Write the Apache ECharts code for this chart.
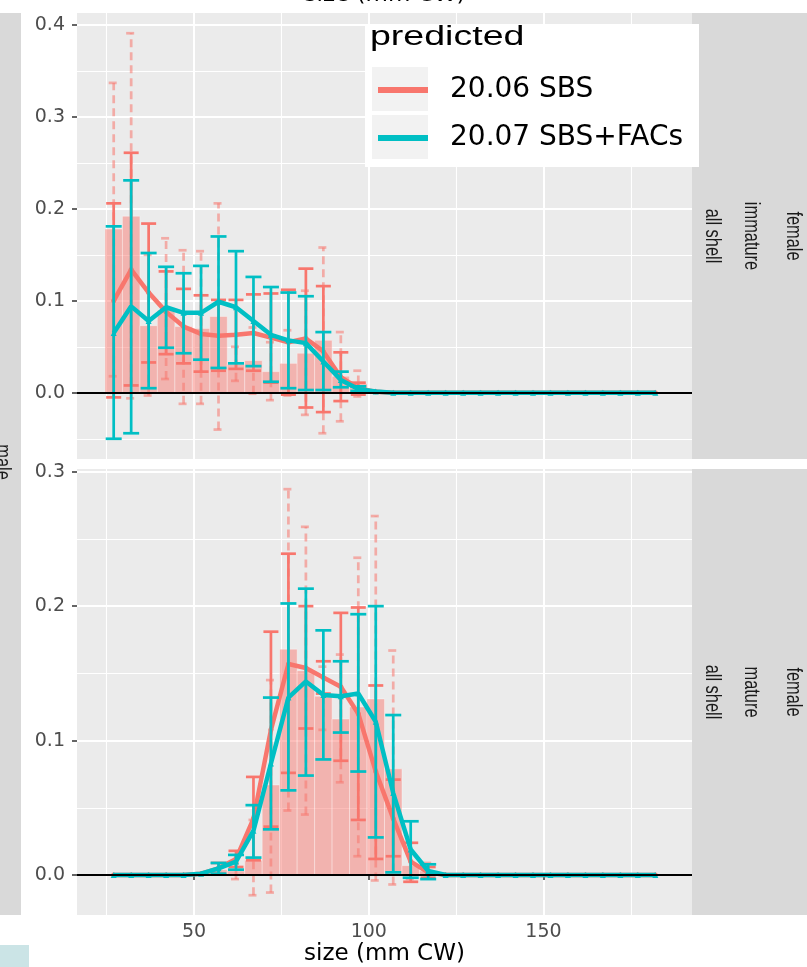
<!DOCTYPE html>
<html>
<head>
<meta charset="utf-8">
<script src="https://cdn.jsdelivr.net/npm/echarts@6/dist/echarts.min.js"></script>
<style>
    html, body { margin: 0; padding: 0; background: #fff; }
    #chart { width: 807px; height: 967px; }
</style>
</head>
<body>
<div id="chart"></div>
<script>
// size bins (mm CW)
var sizes = [27, 32, 37, 42, 47, 52, 57, 62, 67, 72, 77, 82, 87, 92, 97, 102,
             107, 112, 117, 122, 127, 132, 137, 142, 147, 152, 157, 162, 167, 172, 177, 182];
var xMajor = [50, 100, 150];
var xMinor = [25, 75, 125, 175];
var yMajorTop = [0, 0.1, 0.2, 0.3, 0.4];
var yMinorTop = [-0.05, 0.05, 0.15, 0.25, 0.35];
var yMajorBot = [0, 0.1, 0.2, 0.3];
var yMinorBot = [0.05, 0.15, 0.25];

// ---- female immature (top panel) ----
var obsTop   = [0.178, 0.192, 0.073, 0.090, 0.072, 0.070, 0.083, 0.031, 0.035, 0.023, 0.032, 0.043, 0.057, 0.018, 0.010, 0.002];
var obsLoTop = [0.018, -0.006, -0.003, 0.015, -0.012, -0.012, -0.040, 0.013, -0.001, -0.008, -0.003, -0.024, -0.044, -0.031, -0.004];
var obsHiTop = [0.337, 0.391, 0.150, 0.168, 0.155, 0.154, 0.206, 0.050, 0.071, 0.055, 0.068, 0.111, 0.158, 0.066, 0.024];
var sbsTop   = [0.100, 0.134, 0.109, 0.088, 0.072, 0.064, 0.062, 0.063, 0.065, 0.060, 0.055, 0.059, 0.045, 0.017, 0.005, 0.001,
                0, 0, 0, 0, 0, 0, 0, 0, 0, 0, 0, 0, 0, 0, 0, 0];
var sbsLoTop = [-0.005, 0.008, 0.033, 0.042, 0.032, 0.023, 0.024, 0.026, 0.024, 0.011, -0.002, -0.016, -0.021, -0.009, -0.002];
var sbsHiTop = [0.206, 0.261, 0.184, 0.132, 0.113, 0.106, 0.101, 0.101, 0.107, 0.108, 0.112, 0.135, 0.116, 0.044, 0.011];
var facTop   = [0.065, 0.094, 0.078, 0.093, 0.087, 0.087, 0.099, 0.093, 0.078, 0.063, 0.057, 0.054, 0.034, 0.014, 0.004, 0.0015,
                0, 0, 0, 0, 0, 0, 0, 0, 0, 0, 0, 0, 0, 0, 0, 0];
var facLoTop = [-0.050, -0.044, 0.005, 0.049, 0.043, 0.036, 0.027, 0.032, 0.029, 0.012, 0.005, 0.003, 0.003, 0.006, 0.002];
var facHiTop = [0.181, 0.231, 0.152, 0.137, 0.130, 0.138, 0.170, 0.154, 0.126, 0.115, 0.109, 0.105, 0.066, 0.023, 0.007];

// ---- female mature (bottom panel) ----
var obsBot   = [0, 0, 0, 0, 0, 0.002, 0.004, 0.003, 0.011, 0.067, 0.168, 0.152, 0.133, 0.116, 0.125, 0.131, 0.079, 0.007, 0.003];
var obsLoBot = [null, null, null, null, null, null, null, -0.003, -0.015, -0.013, 0.048, 0.045, 0.108, 0.069, 0.014, -0.004, -0.007, -0.003, -0.002];
var obsHiBot = [null, null, null, null, null, null, null, 0.009, 0.041, 0.145, 0.287, 0.259, 0.155, 0.164, 0.236, 0.267, 0.167, 0.017, 0.009];
var sbsBot   = [0, 0, 0, 0, 0, 0.001, 0.005, 0.012, 0.042, 0.108, 0.157, 0.154, 0.147, 0.140, 0.120, 0.077, 0.042, 0.010, 0.002,
                0, 0, 0, 0, 0, 0, 0, 0, 0, 0, 0, 0, 0];
var sbsLoBot = [null, null, null, null, null, null, 0.001, 0.006, 0.011, 0.036, 0.076, 0.109, 0.135, 0.085, 0.041, 0.012, 0.014, -0.005, -0.002];
var sbsHiBot = [null, null, null, null, null, null, 0.009, 0.018, 0.073, 0.181, 0.239, 0.200, 0.159, 0.195, 0.199, 0.141, 0.071, 0.024, 0.006];
var facBot   = [0, 0, 0, 0, 0, 0.001, 0.005, 0.010, 0.033, 0.083, 0.132, 0.144, 0.134, 0.133, 0.135, 0.114, 0.061, 0.019, 0.003,
                0, 0, 0, 0, 0, 0, 0, 0, 0, 0, 0, 0, 0];
var facLoBot = [null, null, null, null, null, null, 0.001, 0.004, 0.013, 0.034, 0.063, 0.074, 0.086, 0.106, 0.077, 0.028, 0.002, -0.002, -0.003];
var facHiBot = [null, null, null, null, null, null, 0.009, 0.015, 0.052, 0.132, 0.202, 0.213, 0.182, 0.159, 0.194, 0.200, 0.119, 0.040, 0.008];

var RED = '#F8766D', TEAL = '#00BFC4';

function pts(arr) {
    return arr.map(function (v, i) { return [sizes[i], v]; });
}
function errs(lo, hi) {
    var out = [];
    lo.forEach(function (v, i) {
        if (v !== null) out.push([sizes[i], v, hi[i]]);
    });
    return out;
}
function bars(arr) {
    return pts(arr).filter(function (d) { return d[1] > 0; });
}

// bar of width 5 mm centred on the bin
function barRender(params, api) {
    var x = api.value(0), v = api.value(1);
    var p0 = api.coord([x - 2.5, v]);
    var p1 = api.coord([x + 2.5, 0]);
    return {
        type: 'rect',
        shape: {x: p0[0], y: p0[1], width: p1[0] - p0[0], height: p1[1] - p0[1]},
        style: {fill: 'rgba(248,118,109,0.48)', stroke: 'rgba(255,255,255,0.35)', lineWidth: 1}
    };
}

function errRender(color, width, cap, dash) {
    return function (params, api) {
        var x = api.value(0);
        var lo = api.coord([x, api.value(1)]);
        var hi = api.coord([x, api.value(2)]);
        var st = {stroke: color, lineWidth: width, lineDash: dash};
        return {
            type: 'group',
            children: [
                {type: 'line', shape: {x1: lo[0], y1: lo[1], x2: hi[0], y2: hi[1]}, style: st},
                {type: 'line', shape: {x1: hi[0] - cap, y1: hi[1], x2: hi[0] + cap, y2: hi[1]}, style: st},
                {type: 'line', shape: {x1: lo[0] - cap, y1: lo[1], x2: lo[0] + cap, y2: lo[1]}, style: st}
            ]
        };
    };
}

function panelSeries(gi, obs, obsLo, obsHi, sbs, sbsLo, sbsHi, fac, facLo, facHi) {
    var ax = {xAxisIndex: gi, yAxisIndex: gi};
    return [
        Object.assign({type: 'custom', renderItem: barRender, data: bars(obs), z: 1, silent: true}, ax),
        Object.assign({type: 'custom', renderItem: errRender('rgba(248,118,109,0.55)', 2.7, 5, [8, 5]),
                       data: errs(obsLo, obsHi), z: 2, silent: true}, ax),
        Object.assign({type: 'custom', renderItem: errRender(RED, 2.7, 7.5, null),
                       data: errs(sbsLo, sbsHi), z: 3, silent: true}, ax),
        Object.assign({type: 'line', name: '20.06 SBS', data: pts(sbs), z: 4, color: RED,
                       symbol: 'circle', symbolSize: 5, showSymbol: true,
                       lineStyle: {width: 4.5, color: RED}, itemStyle: {color: RED}}, ax),
        Object.assign({type: 'custom', renderItem: errRender(TEAL, 2.7, 8, null),
                       data: errs(facLo, facHi), z: 5, silent: true}, ax),
        Object.assign({type: 'line', name: '20.07 SBS+FACs', data: pts(fac), z: 6, color: TEAL,
                       symbol: 'triangle', symbolSize: 6, showSymbol: true,
                       lineStyle: {width: 4.5, color: TEAL}, itemStyle: {color: TEAL},
                       markLine: {silent: true, symbol: 'none', z: 10, animation: false,
                                  label: {show: false},
                                  lineStyle: {color: '#000', width: 2, type: 'solid'},
                                  data: [{yAxis: 0}]}}, ax)
    ];
}

function xAx(gi, vals, width, bottom) {
    return {
        type: 'value', gridIndex: gi, min: 16.5, max: 192.5,
        axisLine: {show: false},
        axisTick: {show: bottom, customValues: vals, length: 5, lineStyle: {color: '#333', width: 1.5}},
        axisLabel: {show: bottom, customValues: vals, margin: 8, fontSize: 19, color: '#4D4D4D',
                    fontFamily: 'DejaVu Sans'},
        splitLine: {show: true, lineStyle: {color: '#fff', width: width}}
    };
}
function yAx(gi, vals, min, max, width, labels) {
    return {
        type: 'value', gridIndex: gi, min: min, max: max,
        axisLine: {show: false},
        axisTick: {show: labels, customValues: vals, length: 5, lineStyle: {color: '#333', width: 1.5}},
        axisLabel: {show: labels, customValues: vals, margin: 12, fontSize: 19, color: '#4D4D4D',
                    fontFamily: 'DejaVu Sans',
                    formatter: function (v) { return v.toFixed(1); }},
        splitLine: {show: true, lineStyle: {color: '#fff', width: width}}
    };
}

var xTop = xAx(0, xMajor, 2, false);
var xBot = xAx(1, xMajor, 2, true);
xBot.name = 'size (mm CW)';
xBot.nameLocation = 'middle';
xBot.nameGap = 27;
xBot.nameTextStyle = {fontSize: 23, color: '#000', fontFamily: 'DejaVu Sans'};

function rotText(txt, x, y) {
    return {type: 'text', x: x, y: y, rotation: -Math.PI / 2, scaleY: 1.4, z: 20,
            style: {text: txt, font: '16.4px "Liberation Sans"', fill: '#1A1A1A',
                    textAlign: 'center', textVerticalAlign: 'middle'}};
}

var myChart = echarts.init(document.getElementById('chart'));
var option = {
    animation: false,
    textStyle: {fontFamily: 'DejaVu Sans'},
    grid: [
        {left: 77, top: 13, width: 615, height: 446, show: true, backgroundColor: '#EBEBEB', borderWidth: 0},
        {left: 77, top: 469, width: 615, height: 446, show: true, backgroundColor: '#EBEBEB', borderWidth: 0}
    ],
    xAxis: [xTop, xBot, xAx(0, xMinor, 1.1, false), xAx(1, xMinor, 1.1, false)],
    yAxis: [
        yAx(0, yMajorTop, -0.072, 0.413, 2, true),
        yAx(1, yMajorBot, -0.0297, 0.302, 2, true),
        yAx(0, yMinorTop, -0.072, 0.413, 1.1, false),
        yAx(1, yMinorBot, -0.0297, 0.302, 1.1, false)
    ],
    legend: {
        orient: 'vertical', left: 375, top: 76, padding: 0,
        itemWidth: 50, itemHeight: 7, itemGap: 20, z: 100,
        lineStyle: {width: 6},
        textStyle: {fontFamily: 'DejaVu Sans', fontSize: 28, color: '#000', padding: [0, 0, 0, 17]},
        data: ['20.06 SBS', '20.07 SBS+FACs']
    },
    graphic: [
        {type: 'rect', shape: {x: 0, y: 13, width: 21, height: 902}, style: {fill: '#D9D9D9'}, z: 10},
        {type: 'text', x: 2, y: 462, rotation: -Math.PI / 2, scaleY: 1.4, z: 20,
         style: {text: 'male', font: '16.4px "Liberation Sans"', fill: '#1A1A1A',
                 textAlign: 'center', textVerticalAlign: 'middle'}},
        {type: 'rect', shape: {x: 692, y: 13, width: 115, height: 446}, style: {fill: '#D9D9D9'}, z: 10},
        {type: 'rect', shape: {x: 692, y: 469, width: 115, height: 446}, style: {fill: '#D9D9D9'}, z: 10},
        rotText('all shell', 712, 236), rotText('immature', 751, 236), rotText('female', 793, 236),
        rotText('all shell', 712, 692), rotText('mature', 751, 692), rotText('female', 793, 692),
        {type: 'text', x: 385, y: -5, z: 20,
         style: {text: 'size (mm CW)', font: '23px "DejaVu Sans"', fill: '#000',
                 textAlign: 'center', textVerticalAlign: 'middle'}},
        {type: 'rect', shape: {x: 0, y: 945, width: 29, height: 22}, style: {fill: '#CBE4E6'}, z: 10},
        // legend box
        {type: 'rect', shape: {x: 365, y: 24, width: 334, height: 143}, style: {fill: '#fff'}, z: 50},
        {type: 'rect', shape: {x: 372, y: 67, width: 56, height: 44}, style: {fill: '#F2F2F2'}, z: 51},
        {type: 'rect', shape: {x: 372, y: 115, width: 56, height: 44}, style: {fill: '#F2F2F2'}, z: 51},
        {type: 'text', x: 370, y: 38, scaleX: 1.39, z: 52,
         style: {text: 'predicted', font: '27px "Liberation Sans"', fill: '#000',
                 textAlign: 'left', textVerticalAlign: 'middle'}}
    ],
    series: [].concat(
        panelSeries(0, obsTop, obsLoTop, obsHiTop, sbsTop, sbsLoTop, sbsHiTop, facTop, facLoTop, facHiTop),
        panelSeries(1, obsBot, obsLoBot, obsHiBot, sbsBot, sbsLoBot, sbsHiBot, facBot, facLoBot, facHiBot)
    )
};
myChart.setOption(option);
</script>
</body>
</html>
